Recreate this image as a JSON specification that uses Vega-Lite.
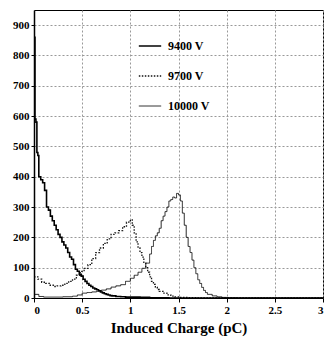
{
  "$schema": "https://vega.github.io/schema/vega-lite/v6.json",
  "width": 289,
  "height": 288,
  "autosize": "none",
  "padding": {"left": 34, "top": 10, "right": 3, "bottom": 40},
  "background": "white",
  "config": {
    "view": {"stroke": "black", "strokeWidth": 1},
    "font": "Liberation Serif"
  },
  "data": {
    "values": [
      {"q": 0, "n": 860, "s": "9400 V"}, {"q": 0.01, "n": 590, "s": "9400 V"}, {"q": 0.02, "n": 580, "s": "9400 V"}, {"q": 0.03, "n": 480, "s": "9400 V"}, {"q": 0.04, "n": 470, "s": "9400 V"}, {"q": 0.05, "n": 400, "s": "9400 V"}, {"q": 0.07, "n": 390, "s": "9400 V"}, {"q": 0.09, "n": 380, "s": "9400 V"}, {"q": 0.11, "n": 355, "s": "9400 V"}, {"q": 0.13, "n": 300, "s": "9400 V"}, {"q": 0.15, "n": 290, "s": "9400 V"}, {"q": 0.17, "n": 270, "s": "9400 V"}, {"q": 0.19, "n": 255, "s": "9400 V"}, {"q": 0.21, "n": 240, "s": "9400 V"}, {"q": 0.23, "n": 225, "s": "9400 V"}, {"q": 0.25, "n": 210, "s": "9400 V"}, {"q": 0.27, "n": 200, "s": "9400 V"}, {"q": 0.29, "n": 185, "s": "9400 V"}, {"q": 0.31, "n": 175, "s": "9400 V"}, {"q": 0.33, "n": 165, "s": "9400 V"}, {"q": 0.35, "n": 150, "s": "9400 V"}, {"q": 0.37, "n": 135, "s": "9400 V"}, {"q": 0.39, "n": 128, "s": "9400 V"}, {"q": 0.41, "n": 110, "s": "9400 V"}, {"q": 0.43, "n": 95, "s": "9400 V"}, {"q": 0.45, "n": 88, "s": "9400 V"}, {"q": 0.47, "n": 78, "s": "9400 V"}, {"q": 0.49, "n": 72, "s": "9400 V"}, {"q": 0.51, "n": 62, "s": "9400 V"}, {"q": 0.53, "n": 55, "s": "9400 V"}, {"q": 0.55, "n": 48, "s": "9400 V"}, {"q": 0.57, "n": 42, "s": "9400 V"}, {"q": 0.59, "n": 38, "s": "9400 V"}, {"q": 0.61, "n": 33, "s": "9400 V"}, {"q": 0.63, "n": 30, "s": "9400 V"}, {"q": 0.65, "n": 27, "s": "9400 V"}, {"q": 0.67, "n": 24, "s": "9400 V"}, {"q": 0.69, "n": 20, "s": "9400 V"}, {"q": 0.71, "n": 17, "s": "9400 V"}, {"q": 0.73, "n": 14, "s": "9400 V"}, {"q": 0.75, "n": 12, "s": "9400 V"}, {"q": 0.77, "n": 10, "s": "9400 V"}, {"q": 0.79, "n": 8, "s": "9400 V"}, {"q": 0.81, "n": 7, "s": "9400 V"}, {"q": 0.85, "n": 5, "s": "9400 V"}, {"q": 0.9, "n": 4, "s": "9400 V"}, {"q": 0.95, "n": 3, "s": "9400 V"}, {"q": 1.0, "n": 3, "s": "9400 V"}, {"q": 1.1, "n": 2, "s": "9400 V"}, {"q": 1.2, "n": 1, "s": "9400 V"}, {"q": 1.4, "n": 0, "s": "9400 V"}, {"q": 3.0, "n": 0, "s": "9400 V"},

      {"q": 0, "n": 70, "s": "9700 V"}, {"q": 0.04, "n": 62, "s": "9700 V"}, {"q": 0.08, "n": 52, "s": "9700 V"}, {"q": 0.12, "n": 48, "s": "9700 V"}, {"q": 0.16, "n": 42, "s": "9700 V"}, {"q": 0.2, "n": 38, "s": "9700 V"}, {"q": 0.24, "n": 40, "s": "9700 V"}, {"q": 0.28, "n": 42, "s": "9700 V"}, {"q": 0.32, "n": 48, "s": "9700 V"}, {"q": 0.36, "n": 55, "s": "9700 V"}, {"q": 0.4, "n": 62, "s": "9700 V"}, {"q": 0.44, "n": 75, "s": "9700 V"}, {"q": 0.48, "n": 88, "s": "9700 V"}, {"q": 0.52, "n": 98, "s": "9700 V"}, {"q": 0.56, "n": 110, "s": "9700 V"}, {"q": 0.6, "n": 130, "s": "9700 V"}, {"q": 0.64, "n": 150, "s": "9700 V"}, {"q": 0.68, "n": 165, "s": "9700 V"}, {"q": 0.72, "n": 180, "s": "9700 V"}, {"q": 0.76, "n": 195, "s": "9700 V"}, {"q": 0.8, "n": 210, "s": "9700 V"}, {"q": 0.84, "n": 215, "s": "9700 V"}, {"q": 0.88, "n": 222, "s": "9700 V"}, {"q": 0.92, "n": 235, "s": "9700 V"}, {"q": 0.96, "n": 250, "s": "9700 V"}, {"q": 1.0, "n": 258, "s": "9700 V"}, {"q": 1.02, "n": 240, "s": "9700 V"}, {"q": 1.04, "n": 215, "s": "9700 V"}, {"q": 1.06, "n": 185, "s": "9700 V"}, {"q": 1.08, "n": 165, "s": "9700 V"}, {"q": 1.1, "n": 150, "s": "9700 V"}, {"q": 1.12, "n": 135, "s": "9700 V"}, {"q": 1.14, "n": 115, "s": "9700 V"}, {"q": 1.16, "n": 100, "s": "9700 V"}, {"q": 1.18, "n": 85, "s": "9700 V"}, {"q": 1.2, "n": 70, "s": "9700 V"}, {"q": 1.22, "n": 55, "s": "9700 V"}, {"q": 1.24, "n": 45, "s": "9700 V"}, {"q": 1.26, "n": 36, "s": "9700 V"}, {"q": 1.28, "n": 28, "s": "9700 V"}, {"q": 1.3, "n": 22, "s": "9700 V"}, {"q": 1.34, "n": 16, "s": "9700 V"}, {"q": 1.38, "n": 10, "s": "9700 V"}, {"q": 1.42, "n": 6, "s": "9700 V"}, {"q": 1.46, "n": 4, "s": "9700 V"}, {"q": 1.5, "n": 2, "s": "9700 V"}, {"q": 1.6, "n": 1, "s": "9700 V"}, {"q": 1.7, "n": 0, "s": "9700 V"}, {"q": 3.0, "n": 0, "s": "9700 V"},

      {"q": 0, "n": 12, "s": "10000 V"}, {"q": 0.05, "n": 5, "s": "10000 V"}, {"q": 0.1, "n": 3, "s": "10000 V"}, {"q": 0.2, "n": 3, "s": "10000 V"}, {"q": 0.3, "n": 4, "s": "10000 V"}, {"q": 0.4, "n": 6, "s": "10000 V"}, {"q": 0.45, "n": 10, "s": "10000 V"}, {"q": 0.5, "n": 16, "s": "10000 V"}, {"q": 0.55, "n": 18, "s": "10000 V"}, {"q": 0.6, "n": 20, "s": "10000 V"}, {"q": 0.65, "n": 22, "s": "10000 V"}, {"q": 0.7, "n": 26, "s": "10000 V"}, {"q": 0.75, "n": 30, "s": "10000 V"}, {"q": 0.8, "n": 36, "s": "10000 V"}, {"q": 0.85, "n": 40, "s": "10000 V"}, {"q": 0.9, "n": 44, "s": "10000 V"}, {"q": 0.95, "n": 55, "s": "10000 V"}, {"q": 1.0, "n": 65, "s": "10000 V"}, {"q": 1.04, "n": 75, "s": "10000 V"}, {"q": 1.08, "n": 85, "s": "10000 V"}, {"q": 1.12, "n": 98, "s": "10000 V"}, {"q": 1.16, "n": 115, "s": "10000 V"}, {"q": 1.2, "n": 145, "s": "10000 V"}, {"q": 1.22, "n": 170, "s": "10000 V"}, {"q": 1.24, "n": 190, "s": "10000 V"}, {"q": 1.26, "n": 205, "s": "10000 V"}, {"q": 1.28, "n": 215, "s": "10000 V"}, {"q": 1.3, "n": 230, "s": "10000 V"}, {"q": 1.32, "n": 255, "s": "10000 V"}, {"q": 1.34, "n": 270, "s": "10000 V"}, {"q": 1.36, "n": 285, "s": "10000 V"}, {"q": 1.38, "n": 300, "s": "10000 V"}, {"q": 1.4, "n": 320, "s": "10000 V"}, {"q": 1.42, "n": 325, "s": "10000 V"}, {"q": 1.44, "n": 333, "s": "10000 V"}, {"q": 1.46, "n": 330, "s": "10000 V"}, {"q": 1.48, "n": 345, "s": "10000 V"}, {"q": 1.5, "n": 340, "s": "10000 V"}, {"q": 1.52, "n": 320, "s": "10000 V"}, {"q": 1.54, "n": 280, "s": "10000 V"}, {"q": 1.56, "n": 240, "s": "10000 V"}, {"q": 1.58, "n": 200, "s": "10000 V"}, {"q": 1.6, "n": 170, "s": "10000 V"}, {"q": 1.62, "n": 150, "s": "10000 V"}, {"q": 1.64, "n": 125, "s": "10000 V"}, {"q": 1.66, "n": 100, "s": "10000 V"}, {"q": 1.68, "n": 80, "s": "10000 V"}, {"q": 1.7, "n": 60, "s": "10000 V"}, {"q": 1.72, "n": 48, "s": "10000 V"}, {"q": 1.74, "n": 35, "s": "10000 V"}, {"q": 1.76, "n": 25, "s": "10000 V"}, {"q": 1.78, "n": 18, "s": "10000 V"}, {"q": 1.8, "n": 12, "s": "10000 V"}, {"q": 1.85, "n": 7, "s": "10000 V"}, {"q": 1.9, "n": 4, "s": "10000 V"}, {"q": 1.95, "n": 2, "s": "10000 V"}, {"q": 2.0, "n": 1, "s": "10000 V"}, {"q": 2.1, "n": 0, "s": "10000 V"}, {"q": 3.0, "n": 0, "s": "10000 V"}
    ]
  },
  "mark": {"type": "line", "interpolate": "step-after", "color": "black"},
  "encoding": {
    "x": {
      "field": "q", "type": "quantitative",
      "scale": {"domain": [0, 3], "nice": false, "zero": false},
      "axis": {
        "title": "Induced Charge (pC)",
        "values": [0, 0.5, 1, 1.5, 2, 2.5, 3],
        "labelExpr": "datum.value == 0 ? '0' : format(datum.value, '~g')",
        "labelFont": "Liberation Serif", "labelFontWeight": "bold", "labelFontSize": 11, "labelColor": "black",
        "titleFont": "Liberation Serif", "titleFontWeight": "bold", "titleFontSize": 15, "titleColor": "black",
        "titlePadding": 5,
        "domainColor": "black", "tickColor": "black", "tickSize": 4, "tickOffset": 0,
        "grid": true, "gridColor": "#999", "gridDash": [2, 2], "gridWidth": 1
      }
    },
    "y": {
      "field": "n", "type": "quantitative",
      "scale": {"domain": [0, 950], "nice": false},
      "axis": {
        "title": null,
        "values": [0, 100, 200, 300, 400, 500, 600, 700, 800, 900],
        "labelFont": "Liberation Serif", "labelFontWeight": "bold", "labelFontSize": 11, "labelColor": "black",
        "domainColor": "black", "domainWidth": 1.5, "tickColor": "black", "tickSize": 3,
        "grid": true, "gridColor": "#999", "gridDash": [2, 2], "gridWidth": 1
      }
    },
    "detail": {"field": "s"},
    "strokeDash": {
      "field": "s", "type": "nominal",
      "scale": {"domain": ["9400 V", "9700 V", "10000 V"], "range": [[1, 0], [1.5, 1.5], [1, 0]]},
      "legend": {
        "title": null, "orient": "none", "legendX": 104, "legendY": 24,
        "labelFont": "Liberation Serif", "labelFontWeight": "bold", "labelFontSize": 12, "labelColor": "black",
        "symbolType": "stroke", "symbolSize": 500, "symbolStrokeColor": "black", "symbolStrokeWidth": 1,
        "rowPadding": 12, "labelOffset": 6
      }
    },
    "strokeWidth": {
      "field": "s", "type": "nominal",
      "scale": {"domain": ["9400 V", "9700 V", "10000 V"], "range": [1.6, 1, 0.8]},
      "legend": null
    },
    "opacity": {
      "field": "s", "type": "nominal",
      "scale": {"domain": ["9400 V", "9700 V", "10000 V"], "range": [1, 0.85, 0.75]},
      "legend": null
    }
  }
}
